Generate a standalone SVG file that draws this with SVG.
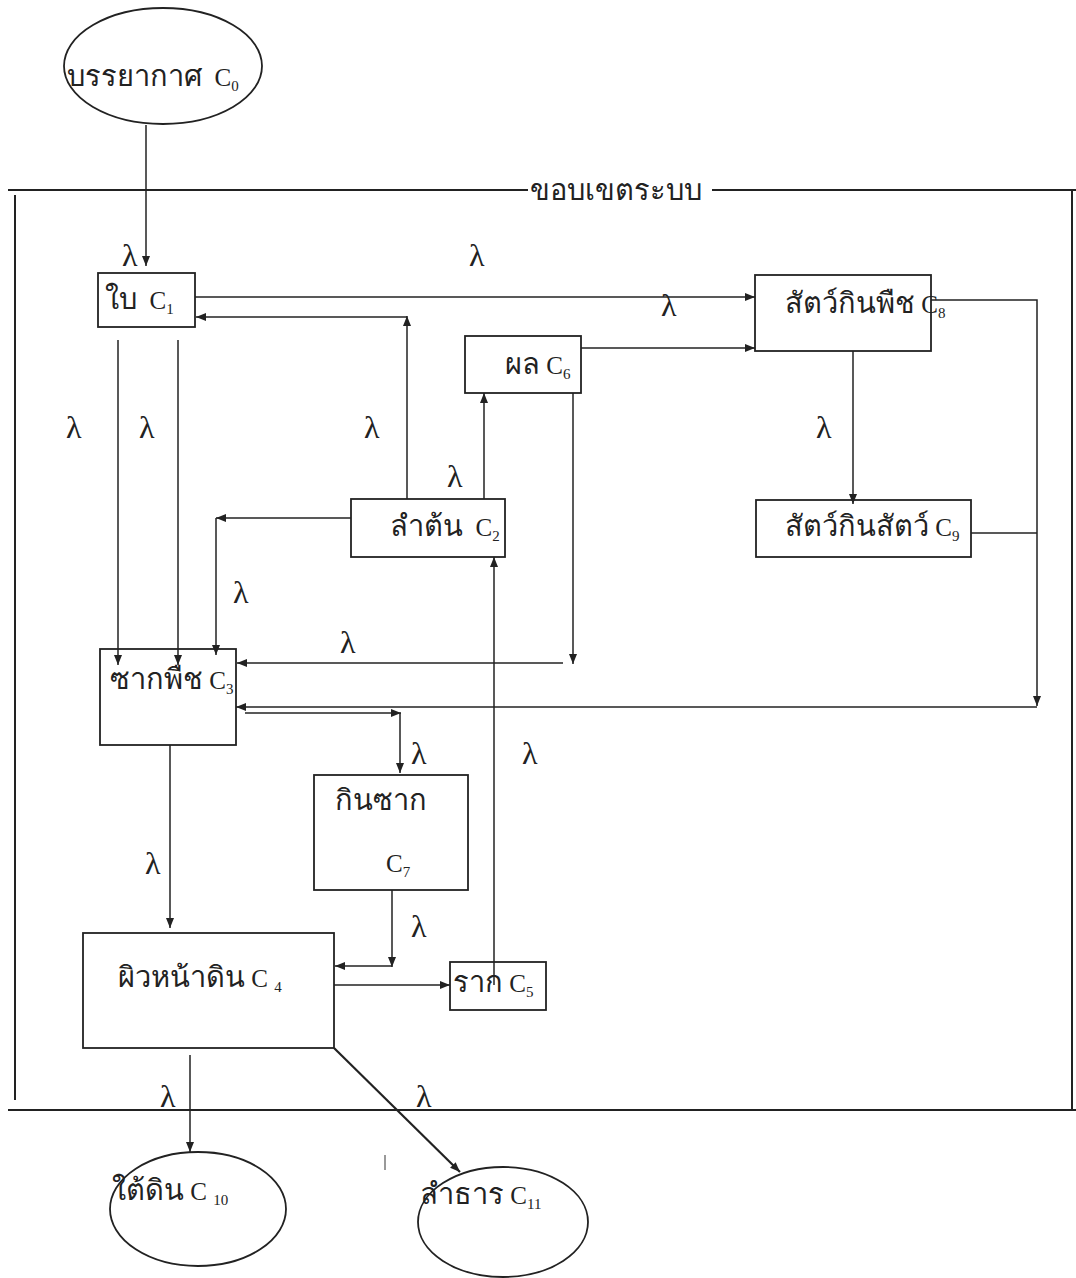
<svg xmlns="http://www.w3.org/2000/svg" width="1076" height="1278" viewBox="0 0 1076 1278">
<style>
.bx{fill:#fff;stroke:#222;stroke-width:1.8}
.el{fill:#fff;stroke:#222;stroke-width:1.8}
.ln{fill:none;stroke:#222;stroke-width:1.5}
.ar{fill:none;stroke:#222;stroke-width:1.5;marker-end:url(#ah)}
.bd{fill:none;stroke:#222;stroke-width:2}
.t{font-family:"Liberation Serif","Noto Sans",serif;font-size:25px;fill:#222;white-space:pre}
.th{font-size:29px}
.s{font-size:15px}
.lam{font-family:"Liberation Serif","DejaVu Serif",serif;font-size:32px;fill:#222}
</style>
<defs>
<marker id="ah" viewBox="0 0 10 10" refX="10" refY="5" markerWidth="10" markerHeight="10" markerUnits="userSpaceOnUse" orient="auto"><path d="M0,1 L10,5 L0,9 z" fill="#222"/></marker>
</defs>
<rect width="1076" height="1278" fill="#fff"/>

<g id="boundary">
<line class="bd" x1="8" y1="190" x2="1076" y2="190"/>
<line class="bd" x1="15" y1="195" x2="15" y2="1100"/>
<line class="bd" x1="1072" y1="190" x2="1072" y2="1110"/>
<line class="bd" x1="8" y1="1110" x2="1076" y2="1110"/>
<rect x="528" y="178" width="184" height="26" fill="#fff"/>
<text class="t" x="530" y="200"><tspan class="th">ขอบเขตระบบ</tspan></text>
<line x1="385" y1="1155" x2="385" y2="1170" stroke="#555" stroke-width="1.2"/>
</g>

<g id="C0">
<ellipse class="el" cx="163" cy="66" rx="99" ry="58"/>
<text class="t" x="67" y="86" xml:space="preserve"><tspan class="th">บรรยากาศ</tspan>  C<tspan class="s" dy="5">0</tspan></text>
</g>
<g id="C1">
<rect class="bx" x="98" y="273" width="97" height="54"/>
<text class="t" x="105" y="309" xml:space="preserve"><tspan class="th">ใบ</tspan>  C<tspan class="s" dy="5">1</tspan></text>
</g>
<g id="C8">
<rect class="bx" x="755" y="275" width="176" height="76"/>
<text class="t" x="785" y="313" xml:space="preserve"><tspan class="th">สัตว์กินพืช</tspan> C<tspan class="s" dy="5">8</tspan></text>
</g>
<g id="C6">
<rect class="bx" x="465" y="336" width="116" height="57"/>
<text class="t" x="505" y="374" xml:space="preserve"><tspan class="th">ผล</tspan> C<tspan class="s" dy="5">6</tspan></text>
</g>
<g id="C2">
<rect class="bx" x="351" y="499" width="154" height="58"/>
<text class="t" x="390" y="536" xml:space="preserve"><tspan class="th">ลำต้น</tspan>  C<tspan class="s" dy="5">2</tspan></text>
</g>
<g id="C9">
<rect class="bx" x="756" y="500" width="215" height="57"/>
<text class="t" x="785" y="536" xml:space="preserve"><tspan class="th">สัตว์กินสัตว์</tspan> C<tspan class="s" dy="5">9</tspan></text>
</g>
<g id="C3">
<rect class="bx" x="100" y="649" width="136" height="96"/>
<text class="t" x="110" y="689" xml:space="preserve"><tspan class="th">ซากพืช</tspan> C<tspan class="s" dy="5">3</tspan></text>
</g>
<g id="C7">
<rect class="bx" x="314" y="775" width="154" height="115"/>
<text class="t" x="335" y="810"><tspan class="th">กินซาก</tspan></text>
<text class="t" x="386" y="872">C<tspan class="s" dy="5">7</tspan></text>
</g>
<g id="C4">
<rect class="bx" x="83" y="933" width="251" height="115"/>
<text class="t" x="118" y="987" xml:space="preserve"><tspan class="th">ผิวหน้าดิน</tspan> C <tspan class="s" dy="5">4</tspan></text>
</g>
<g id="C5">
<rect class="bx" x="450" y="962" width="96" height="48"/>
<text class="t" x="453" y="992" xml:space="preserve"><tspan class="th">ราก</tspan> C<tspan class="s" dy="5">5</tspan></text>
</g>
<g id="C10">
<ellipse class="el" cx="198" cy="1209" rx="88" ry="57"/>
<text class="t" x="112" y="1200" xml:space="preserve"><tspan class="th">ใต้ดิน</tspan> C <tspan class="s" dy="5">10</tspan></text>
</g>
<g id="C11">
<ellipse class="el" cx="503" cy="1222" rx="85" ry="55"/>
<text class="t" x="420" y="1204" xml:space="preserve"><tspan class="th">ลำธาร</tspan> C<tspan class="s" dy="5">11</tspan></text>
</g>

<g id="connectors">
<line class="ar" x1="146" y1="125" x2="146" y2="266"/>
<line class="ar" x1="195" y1="297" x2="755" y2="297"/>
<line class="ar" x1="407" y1="499" x2="407" y2="316"/>
<line class="ar" x1="407" y1="317" x2="196" y2="317"/>
<line class="ar" x1="484" y1="499" x2="484" y2="393"/>
<line class="ar" x1="581" y1="348" x2="755" y2="348"/>
<line class="ar" x1="573" y1="393" x2="573" y2="664"/>
<line class="ar" x1="563" y1="663" x2="237" y2="663"/>
<line class="ar" x1="351" y1="518" x2="216" y2="518"/>
<line class="ar" x1="216" y1="518" x2="216" y2="655"/>
<line class="ar" x1="118" y1="340" x2="118" y2="665"/>
<line class="ar" x1="178" y1="340" x2="178" y2="665"/>
<line class="ar" x1="853" y1="351" x2="853" y2="504"/>
<polyline class="ar" points="931,300 1037,300 1037,706"/>
<line class="ln" x1="971" y1="533" x2="1037" y2="533"/>
<line class="ar" x1="1037" y1="707" x2="236" y2="707"/>
<line class="ar" x1="245" y1="713" x2="401" y2="713"/>
<line class="ar" x1="400" y1="713" x2="400" y2="773"/>
<line class="ar" x1="170" y1="745" x2="170" y2="928"/>
<line class="ar" x1="392" y1="890" x2="392" y2="967"/>
<line class="ar" x1="392" y1="966" x2="335" y2="966"/>
<line class="ar" x1="334" y1="985" x2="450" y2="985"/>
<line class="ar" x1="494" y1="985" x2="494" y2="557"/>
<line class="ar" x1="190" y1="1055" x2="190" y2="1152"/>
<line class="ar" x1="334" y1="1048" x2="460" y2="1172" style="stroke-width:2.2"/>
</g>

<g id="labels">
<text class="lam" x="122" y="266">λ</text>
<text class="lam" x="469" y="266">λ</text>
<text class="lam" x="661" y="316">λ</text>
<text class="lam" x="66" y="438">λ</text>
<text class="lam" x="139" y="438">λ</text>
<text class="lam" x="364" y="438">λ</text>
<text class="lam" x="447" y="487">λ</text>
<text class="lam" x="816" y="438">λ</text>
<text class="lam" x="233" y="603">λ</text>
<text class="lam" x="340" y="653">λ</text>
<text class="lam" x="411" y="764">λ</text>
<text class="lam" x="522" y="764">λ</text>
<text class="lam" x="145" y="874">λ</text>
<text class="lam" x="411" y="937">λ</text>
<text class="lam" x="160" y="1107">λ</text>
<text class="lam" x="416" y="1107">λ</text>
</g>
</svg>
